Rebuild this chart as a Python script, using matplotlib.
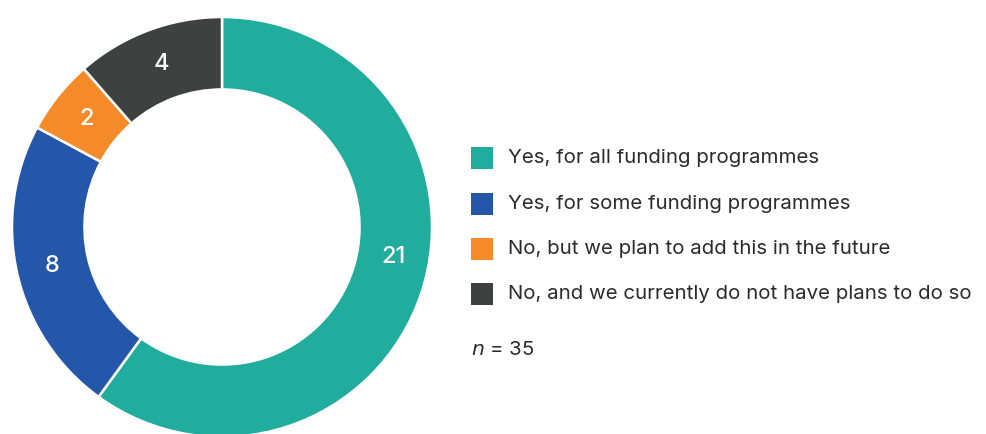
import matplotlib
matplotlib.use("Agg")
import matplotlib.pyplot as plt
from matplotlib.patches import Rectangle
import numpy as np

categories = [
    "Yes, for all funding programmes",
    "Yes, for some funding programmes",
    "No, but we plan to add this in the future",
    "No, and we currently do not have plans to do so",
]
counts = [21, 8, 2, 4]
colors = ["#20AD9D", "#2457A9", "#F58A28", "#3D413F"]
n_label = "35"

plt.rcParams["font.family"] = ["Inter", "DejaVu Sans"]

W, H = 986, 434
fig = plt.figure(figsize=(W / 100, H / 100), dpi=100)

# donut: centre (222, 227) px from top-left, outer radius 210 px
cx, cy, R = 222, 227, 210
ax = fig.add_axes([(cx - R) / W, (H - cy - R) / H, 2 * R / W, 2 * R / H])

ring = 0.345
wedges, _ = ax.pie(
    counts, colors=colors, startangle=90, counterclock=False, radius=1,
    wedgeprops=dict(width=ring, edgecolor="white", linewidth=1.8),
)
ax.set_xlim(-1, 1)
ax.set_ylim(-1, 1)
ax.set_aspect("equal")
ax.axis("off")

# value labels sit mid-ring; the big slice's label is nudged upward
angle_shift = [8, 0, 0, 0]
r_mid = 1 - ring / 2
for w, v, d in zip(wedges, counts, angle_shift):
    ang = np.deg2rad((w.theta1 + w.theta2) / 2 + d)
    ax.text(r_mid * np.cos(ang), r_mid * np.sin(ang), str(v), color="white",
            fontsize=17, fontweight="medium", ha="center", va="center")

# legend
sq = 22
x_sq = 471
x_txt = 508
rows_y = [158, 204, 249, 294]
for c, lab, y in zip(colors, categories, rows_y):
    fig.patches.append(Rectangle((x_sq / W, (H - y - sq / 2) / H), sq / W, sq / H,
                                 transform=fig.transFigure, facecolor=c,
                                 edgecolor="none"))
    fig.text(x_txt / W, (H - y) / H, lab, fontsize=14.7, color="#2B2B2B",
             ha="left", va="center")

fig.text(x_sq / W, (H - 350) / H, "$\\it{n}$ = " + n_label, fontsize=14.7,
         color="#2B2B2B", ha="left", va="center")

fig.savefig("out.png", dpi=100, facecolor="white")
